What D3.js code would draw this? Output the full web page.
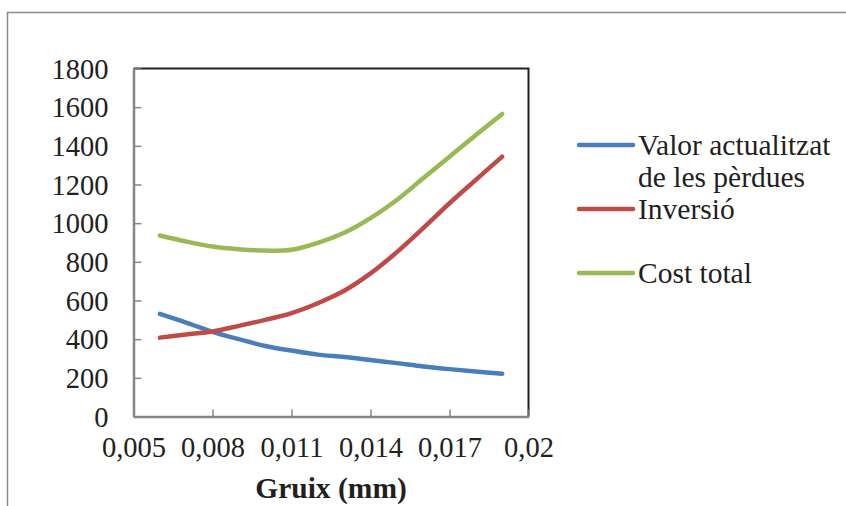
<!DOCTYPE html>
<html>
<head>
    <meta charset='utf-8'>
    <script src='https://cdn.jsdelivr.net/npm/d3@7'></script>
    <style type='text/css'>
        html, body {
            margin: 0;
            padding: 0;
            background: white;
            overflow: hidden;
        }
        text {
            font-family: 'Liberation Serif', 'Times New Roman', serif;
            fill: #231f20;
        }
    </style>
</head>
<body>
<script>
    // Data:
    const thickness = [0.006, 0.007, 0.008, 0.009, 0.010, 0.011, 0.012, 0.013, 0.014, 0.015, 0.016, 0.017, 0.018, 0.019];
    const valorPerdues = [531, 486, 438, 400, 365, 341, 320, 308, 292, 276, 259, 245, 233, 221];
    const inversio = [408, 424, 440, 469, 500, 535, 586, 650, 740, 850, 974, 1103, 1224, 1344];
    const costTotal = [936, 905, 879, 865, 858, 862, 898, 950, 1026, 1120, 1232, 1344, 1456, 1565];
    const seriesNames = ['Valor actualitzat de les pèrdues', 'Inversió', 'Cost total'];
    const xTicks = [0.005, 0.008, 0.011, 0.014, 0.017, 0.02];
    const yTicks = [0, 200, 400, 600, 800, 1000, 1200, 1400, 1600, 1800];
    const xTitle = 'Gruix (mm)';

    const series = [
        { name: seriesNames[0], values: valorPerdues, color: '#4a7ebb' },
        { name: seriesNames[1], values: inversio, color: '#be4b48' },
        { name: seriesNames[2], values: costTotal, color: '#98b954' }
    ];

    // page setup
    const width = 846, height = 506;
    const svg = d3.select('body').append('svg')
        .attr('width', width)
        .attr('height', height);

    // outer chart frame (runs off the right / bottom edge)
    svg.append('rect')
        .attr('x', 7.5).attr('y', 12.5)
        .attr('width', 900).attr('height', 600)
        .attr('fill', 'none')
        .attr('stroke', '#8c8c8c')
        .attr('stroke-width', 1.5);

    // plot area
    const plot = { left: 133.5, right: 528.5, top: 68.5, bottom: 416.5 };
    const x = d3.scaleLinear().domain([0.005, 0.02]).range([plot.left, plot.right]);
    const y = d3.scaleLinear().domain([0, 1800]).range([plot.bottom, plot.top]);

    // top and right borders of the plot area
    svg.append('path')
        .attr('d', `M${plot.left},${plot.top} H${plot.right} V${plot.bottom}`)
        .attr('fill', 'none')
        .attr('stroke', '#231f20')
        .attr('stroke-width', 2);

    const fmtX = v => String(+v.toFixed(3)).replace('.', ',');

    // x axis
    const xAxis = svg.append('g')
        .attr('transform', `translate(0,${plot.bottom})`)
        .call(d3.axisBottom(x).tickValues(xTicks).tickFormat(fmtX).tickSizeInner(-7).tickSizeOuter(0).tickPadding(20));
    // y axis
    const yAxis = svg.append('g')
        .attr('transform', `translate(${plot.left},0)`)
        .call(d3.axisLeft(y).tickValues(yTicks).tickFormat(d3.format('d')).tickSizeInner(-8).tickSizeOuter(0).tickPadding(25));

    [xAxis, yAxis].forEach(ax => {
        ax.select('.domain').attr('stroke', '#868686').attr('stroke-width', 2.5);
        ax.selectAll('.tick line').attr('stroke', '#868686').attr('stroke-width', 1.5);
        ax.selectAll('.tick text')
            .attr('fill', '#231f20')
            .style('font-family', "'Liberation Serif', 'Times New Roman', serif")
            .style('font-size', '28.5px');
    });
    xAxis.selectAll('.tick text').attr('dy', '0.71em').attr('y', 20);
    yAxis.selectAll('.tick text').attr('dy', '0.34em');

    // axis title
    svg.append('text')
        .attr('x', (plot.left + plot.right) / 2)
        .attr('y', 498)
        .attr('text-anchor', 'middle')
        .style('font-size', '29.5px')
        .style('font-weight', 'bold')
        .text(xTitle);

    // lines
    const line = d3.line()
        .x((d, i) => x(thickness[i]))
        .y(d => y(d))
        .curve(d3.curveCatmullRom.alpha(0.5));

    svg.append('g')
        .selectAll('path')
        .data(series)
        .join('path')
        .attr('d', d => line(d.values))
        .attr('fill', 'none')
        .attr('stroke', d => d.color)
        .attr('stroke-width', 4.5)
        .attr('stroke-linecap', 'round')
        .attr('stroke-linejoin', 'round');

    // legend
    const legendY = [145, 209, 273];
    const legend = svg.append('g')
        .selectAll('g')
        .data(series)
        .join('g')
        .attr('transform', (d, i) => `translate(579,${legendY[i]})`);
    legend.append('line')
        .attr('x1', 0).attr('x2', 54)
        .attr('stroke', d => d.color)
        .attr('stroke-width', 4.5)
        .attr('stroke-linecap', 'round');
    const legendText = legend.append('text')
        .attr('x', 59)
        .attr('dy', '0.34em')
        .style('font-size', '29.5px');
    // first label wraps onto two lines
    legendText.each(function(d) {
        const t = d3.select(this);
        if (d.name === seriesNames[0]) {
            t.append('tspan').attr('x', 59).text('Valor actualitzat');
            t.append('tspan').attr('x', 59).attr('dy', 32).text('de les pèrdues');
        } else {
            t.text(d.name);
        }
    });
</script>
</body>
</html>
